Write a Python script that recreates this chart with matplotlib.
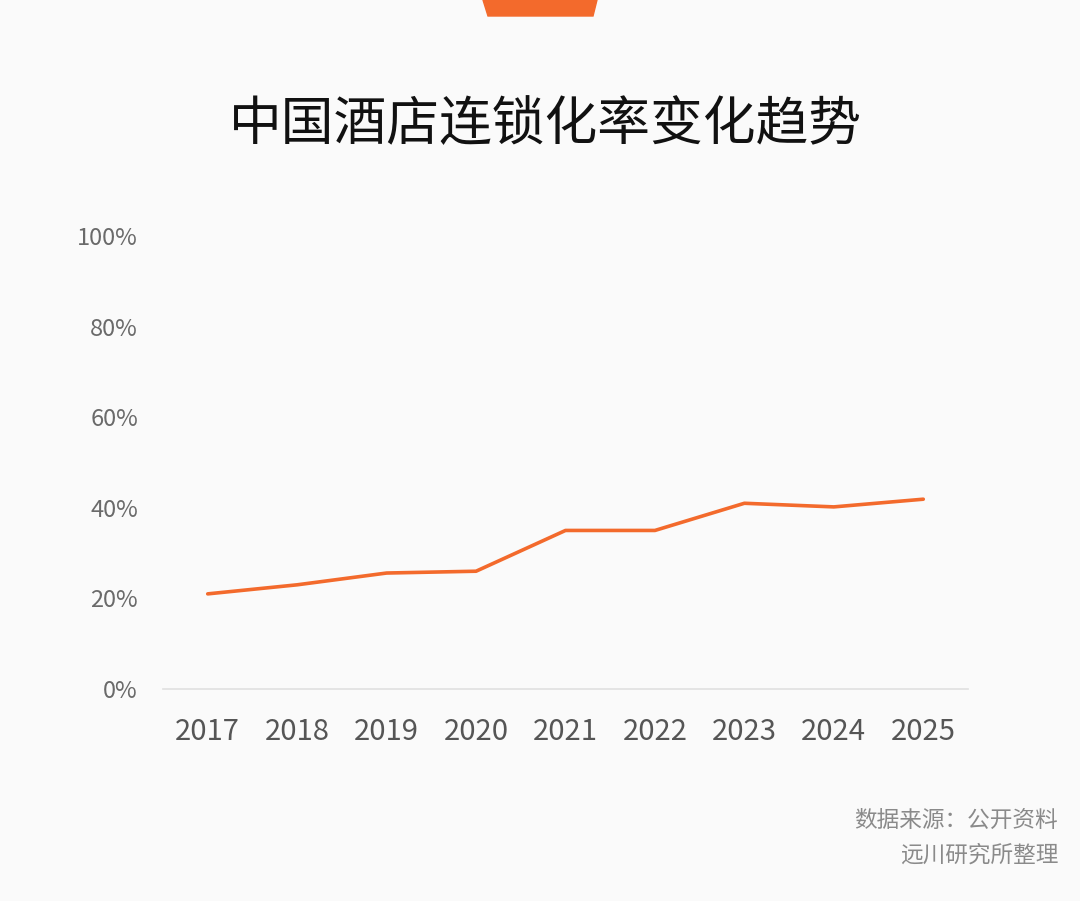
import matplotlib
matplotlib.use('Agg')
import matplotlib.pyplot as plt
from matplotlib.patches import Polygon

plt.rcParams['font.family'] = ['Noto Sans CJK SC', 'DejaVu Sans']

# Data
years = ['2017', '2018', '2019', '2020', '2021', '2022', '2023', '2024', '2025']
chain_rate = [21.0, 23.0, 25.6, 26.0, 35.0, 35.0, 41.0, 40.2, 41.9]
y_ticks = [0, 20, 40, 60, 80, 100]

title = '中国酒店连锁化率变化趋势'
source_lines = ['数据来源：公开资料', '远川研究所整理']

orange = '#f36a2c'
bg = '#fafafa'

W, H = 1080, 901
fig = plt.figure(figsize=(W / 100, H / 100), dpi=100, facecolor=bg)

# orange tab at top
tab = Polygon([(483 / W, 1.0), (597 / W, 1.0), (593 / W, 1 - 16 / H), (488 / W, 1 - 16 / H)],
              closed=True, transform=fig.transFigure, color=orange, zorder=5)
fig.patches.append(tab)

ax = fig.add_axes([163 / W, 1 - 689 / H, (968 - 163) / W, (689 - 236) / H])
ax.set_facecolor(bg)

x = list(range(len(years)))
ax.plot(x, chain_rate, color=orange, linewidth=2.6, solid_capstyle='round',
        solid_joinstyle='round', zorder=3)

ax.set_xlim(-0.5, len(years) - 0.5)
ax.set_ylim(0, 100)
ax.axhline(0, color='#e0e0e0', linewidth=1.2, zorder=1, clip_on=False)

for s in ax.spines.values():
    s.set_visible(False)

ax.set_xticks(x)
ax.set_xticklabels(years, fontsize=21, color='#555555')
ax.set_yticks(y_ticks)
ax.set_yticklabels([f'{v}%' for v in y_ticks], fontsize=17, color='#6a6a6a',
                   fontweight='light')
ax.tick_params(axis='x', length=0, pad=20)
ax.tick_params(axis='y', length=0, pad=18)
for lbl in ax.get_yticklabels():
    lbl.set_horizontalalignment('right')

fig.text(545 / W, 1 - 125 / H, title, fontsize=38, color='#111111',
         ha='center', va='center')

fig.text(1058 / W, 1 - 820 / H, source_lines[0], fontsize=16.3, color='#8a8a8a',
         ha='right', va='center')
fig.text(1058 / W, 1 - 855 / H, source_lines[1], fontsize=16.3, color='#8a8a8a',
         ha='right', va='center')

fig.savefig('out.png', dpi=100, facecolor=bg)
